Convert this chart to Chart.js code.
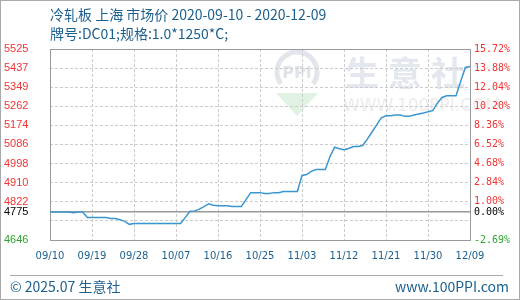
<!DOCTYPE html>
<html>
<head>
<meta charset="utf-8">
<script src="https://cdn.jsdelivr.net/npm/chart.js@4"></script>
<style>
    html, body { margin: 0; padding: 0; background: #fff; }
    #wrap { width: 520px; height: 300px; }
</style>
</head>
<body>
<div id="wrap"><canvas id="priceChart" width="520" height="300"></canvas></div>
<script>
// === DATA ===
const titleText = '冷轧板 上海 市场价 2020-09-10 - 2020-12-09';
const subTitleText = '牌号:DC01;规格:1.0*1250*C;';
const footerLeft = '© 2025.07 生意社';
const footerRight = 'www.100PPI.com';

// one category per day, 2020-09-10 .. 2020-12-09
const dateLabels = [];
for (let i = 0; i < 91; i++) {
    const d = new Date(2020, 8, 10 + i);
    dateLabels.push(String(d.getMonth() + 1).padStart(2, '0') + '/' + String(d.getDate()).padStart(2, '0'));
}

const prices = [
    4775, 4775, 4775, 4775, 4775, 4772, 4775, 4775, 4750, 4750, 4750,
    4750, 4750, 4745, 4745, 4739, 4732, 4718, 4722, 4722, 4722,
    4722, 4722, 4722, 4722, 4722, 4722, 4722, 4722, 4750, 4778,
    4780, 4788, 4800, 4813, 4806, 4804, 4804, 4804, 4800, 4800,
    4800, 4832, 4864, 4864, 4864, 4860, 4860, 4864, 4864, 4869,
    4869, 4869, 4869, 4943, 4947, 4962, 4970, 4970, 4970, 5030,
    5073, 5066, 5061, 5067, 5076, 5076, 5081, 5110, 5143, 5176,
    5208, 5218, 5218, 5221, 5221, 5215, 5215, 5221, 5226, 5230,
    5236, 5241, 5275, 5302, 5310, 5310, 5310, 5375, 5440, 5444
];

const basePrice = 4775;
const yMin = 4646;
const yMax = 5525;
const yTickValues = [4646, 4734, 4775, 4822, 4910, 4998, 5086, 5174, 5262, 5349, 5437, 5525];
const leftTickLabels = ['4646', '', '4775', '4822', '4910', '4998', '5086', '5174', '5262', '5349', '5437', '5525'];
const rightTickLabels = ['-2.69%', '', '0.00%', '1.00%', '2.84%', '4.68%', '6.52%', '8.36%', '10.20%', '12.04%', '13.88%', '15.72%'];
const xTickStep = 9;

// === COLOURS ===
const textBlue = '#1b5f8f';
const upRed = '#f03434';
const downGreen = '#2fa52f';
const gridGray = '#cccccc';
const frameGray = '#999999';

function tickColor(ctx) {
    const v = ctx.tick ? ctx.tick.value : 0;
    if (v === basePrice) return '#000000';
    if (v < basePrice) return downGreen;
    return upRed;
}

function setYTicks(scale) {
    scale.ticks = yTickValues.map(v => ({ value: v }));
}

// page decorations: title, watermark, frame, footer
const decorPlugin = {
    id: 'decor',
    beforeDraw(chart) {
        const c = chart.ctx;
        c.save();
        c.fillStyle = '#ffffff';
        c.fillRect(0, 0, chart.width, chart.height);

        // watermark logo
        c.fillStyle = '#e2f2e2';
        c.beginPath();
        c.moveTo(276, 93);
        c.lineTo(318, 93);
        c.lineTo(297, 116);
        c.closePath();
        c.fill();
        c.strokeStyle = '#e2e5eb';
        c.lineWidth = 5;
        c.beginPath();
        c.arc(297, 72, 20, Math.PI * 0.8, Math.PI * 2.2);
        c.stroke();
        c.fillStyle = '#dfe3ea';
        c.font = 'bold 16px "DejaVu Sans"';
        c.textAlign = 'center';
        c.textBaseline = 'middle';
        c.fillText('PPI', 297, 74);

        c.fillStyle = '#e3e7ee';
        c.font = 'bold 34px "Noto Sans CJK SC"';
        c.textAlign = 'left';
        ['生', '意', '社'].forEach((ch, i) => c.fillText(ch, 345 + i * 43, 73));
        c.fillStyle = '#ececec';
        c.font = '17px "DejaVu Sans"';
        c.fillText('WWW.100PPI.COM', 343, 107);
        c.restore();
    },
    beforeDatasetsDraw(chart) {
        const a = chart.chartArea;
        const c = chart.ctx;
        c.save();
        c.strokeStyle = frameGray;
        c.lineWidth = 1;
        c.strokeRect(Math.round(a.left) + 0.5, Math.round(a.top) + 0.5, Math.round(a.right - a.left), Math.round(a.bottom - a.top));
        c.restore();
    },
    afterDraw(chart) {
        const c = chart.ctx;
        c.save();
        c.fillStyle = textBlue;
        c.textBaseline = 'middle';
        c.textAlign = 'left';
        c.font = '14px "Noto Sans CJK SC"';
        c.fillText(titleText, 50, 15);
        c.fillText(subTitleText, 50, 34);

        // footer
        c.strokeStyle = '#aaaaaa';
        c.lineWidth = 1;
        c.beginPath();
        c.moveTo(10, 275.5);
        c.lineTo(503, 275.5);
        c.stroke();
        c.font = '14px "Noto Sans CJK SC"';
        c.fillText(footerLeft, 10, 287);
        c.textAlign = 'right';
        c.fillText(footerRight, 509, 287);

        // outer border
        c.strokeStyle = '#aaaaaa';
        c.strokeRect(0.5, 0.5, chart.width - 1, chart.height - 1);
        c.restore();
    }
};

document.addEventListener('DOMContentLoaded', function() {
    const ctx = document.getElementById('priceChart');

    new Chart(ctx.getContext('2d'), {
        type: 'line',
        data: {
            labels: dateLabels,
            datasets: [{
                data: prices,
                borderColor: '#3a96d0',
                borderWidth: 1.5,
                pointRadius: 0,
                tension: 0,
                fill: false
            }]
        },
        options: {
            responsive: false,
            animation: false,
            devicePixelRatio: 1,
            layout: { padding: { left: 4, top: 49, right: 0, bottom: 0 } },
            plugins: {
                legend: { display: false },
                tooltip: { enabled: false }
            },
            scales: {
                x: {
                    offset: false,
                    afterBuildTicks: s => { s.ticks = s.ticks.filter(t => t.value % xTickStep === 0); },
                    afterFit: s => { s.height = 60; },
                    grid: { color: gridGray, drawTicks: false },
                    border: { display: false, dash: [3, 2] },
                    ticks: {
                        autoSkip: false,
                        maxRotation: 0,
                        padding: 10,
                        color: textBlue,
                        font: { family: '"DejaVu Sans"', size: 10 }
                    }
                },
                y: {
                    position: 'left',
                    min: yMin,
                    max: yMax,
                    afterBuildTicks: setYTicks,
                    afterFit: s => { s.width = 46; },
                    grid: {
                        drawTicks: false,
                        color: c => (c.tick && c.tick.value === basePrice) ? frameGray : gridGray,
                        lineWidth: c => (c.tick && c.tick.value === basePrice) ? 1.5 : 1
                    },
                    border: {
                        display: false,
                        dash: c => (c.type === 'tick' && c.tick.value !== basePrice) ? [3, 2] : []
                    },
                    ticks: {
                        crossAlign: 'far',
                        padding: 4,
                        color: tickColor,
                        font: { family: '"Liberation Sans"', size: 11 },
                        callback: (v, i) => leftTickLabels[i]
                    }
                },
                y2: {
                    position: 'right',
                    min: yMin,
                    max: yMax,
                    afterBuildTicks: setYTicks,
                    afterFit: s => { s.width = 50; },
                    grid: { display: false, drawTicks: false },
                    border: { display: false },
                    ticks: {
                        padding: 4,
                        color: tickColor,
                        font: { family: '"DejaVu Sans Mono"', size: 10 },
                        callback: (v, i) => rightTickLabels[i]
                    }
                }
            }
        },
        plugins: [decorPlugin]
    });
});
</script>
</body>
</html>
